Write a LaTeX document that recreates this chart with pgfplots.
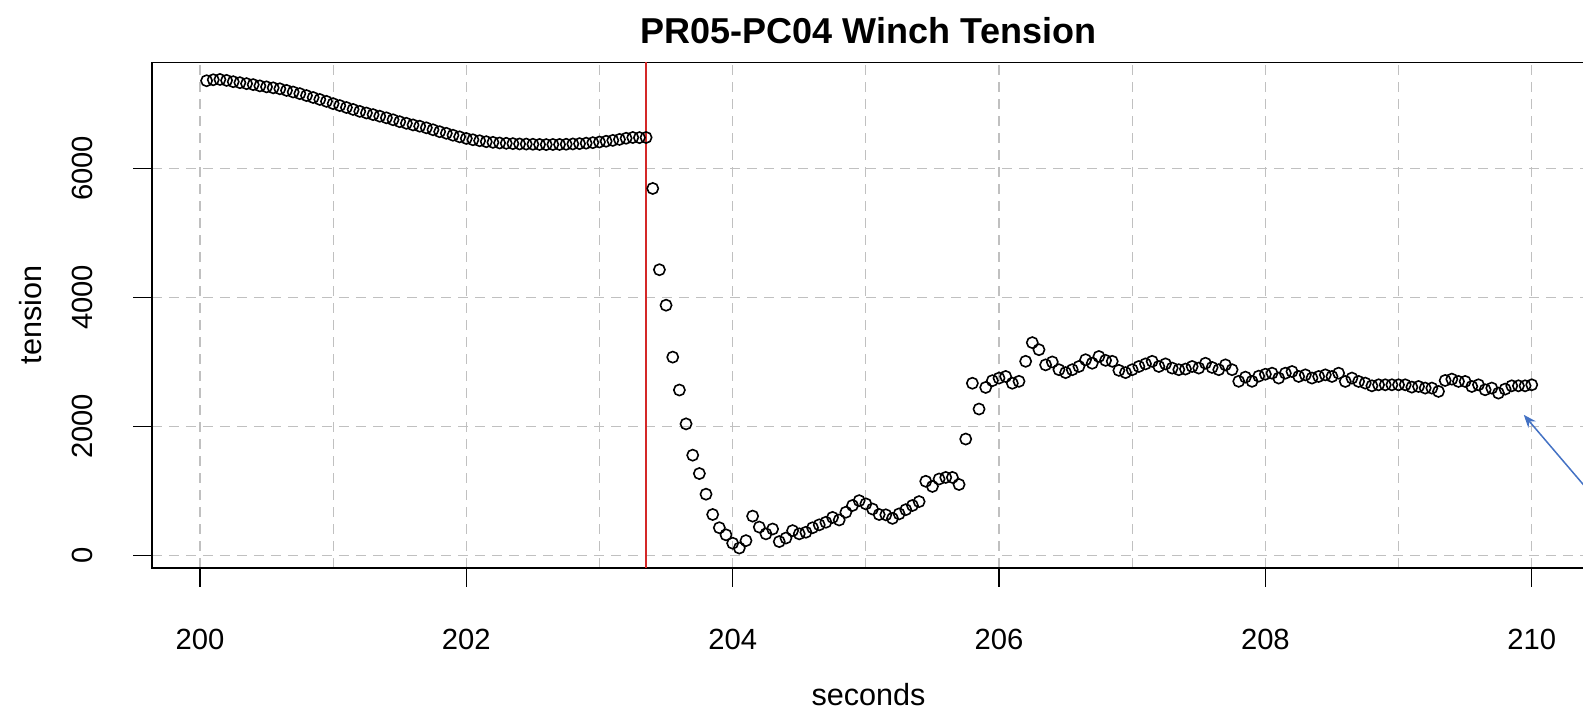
\documentclass[border=0pt]{standalone}
\usepackage{fontspec}
\setmainfont{Liberation Sans}
\usepackage{pgfplots}
\pgfplotsset{compat=1.18}
\usetikzlibrary{arrows.meta}
\definecolor{gridgray}{RGB}{192,192,192}
\definecolor{vred}{RGB}{212,40,40}
\definecolor{arrowblue}{RGB}{68,114,196}
\begin{document}
\begin{tikzpicture}
\begin{axis}[
  scale only axis,
  width=716.5bp, height=252.85bp,
  xmin=199.64, xmax=210.40,
  ymin=-194, ymax=7646,
  xtick={200,202,204,206,208,210},
  minor xtick={201,203,205,207,209},
  ytick={0,2000,4000,6000},
  grid=both,
  major grid style={gridgray, line width=0.6bp, dash pattern=on 5bp off 3.5bp},
  minor grid style={gridgray, line width=0.6bp, dash pattern=on 5bp off 3.5bp},
  minor tick length=0pt,
  major tick length=9.3bp,
  tick align=outside,
  xtick pos=left, ytick pos=left,
  major tick style={black, line width=0.65bp},
  axis line style={black, line width=0.65bp},
  /pgf/number format/assume math mode=true,
  /pgf/number format/1000 sep={},
  ticklabel style={font=\fontsize{14.6bp}{18bp}\selectfont},
  xticklabel style={anchor=center, yshift=-26.5bp},
  yticklabel style={xshift=-25.5bp, rotate=90, anchor=center},
  every axis title/.style={at={(axis description cs:0.5,1)}, anchor=center, yshift=16bp, font=\fontsize{18bp}{21bp}\selectfont\bfseries},
  every axis x label/.style={at={(axis description cs:0.5,0)}, anchor=center, yshift=-63.3bp, font=\fontsize{15.3bp}{18bp}\selectfont},
  every axis y label/.style={at={(axis description cs:0,0.5)}, xshift=-60.85bp, rotate=90, anchor=center, font=\fontsize{15.3bp}{18bp}\selectfont},
  title={PR05-PC04 Winch Tension},
  xlabel={seconds},
  ylabel={tension},
]
\addplot[only marks, mark=o, mark size=2.8bp, mark options={black, line width=0.8bp}] table {
t v
200.05 7360
200.10 7375
200.15 7380
200.20 7365
200.25 7345
200.30 7330
200.35 7315
200.40 7300
200.45 7280
200.50 7265
200.55 7250
200.60 7235
200.65 7210
200.70 7185
200.75 7160
200.80 7130
200.85 7100
200.90 7070
200.95 7040
201.00 7005
201.05 6975
201.10 6945
201.15 6915
201.20 6885
201.25 6860
201.30 6835
201.35 6810
201.40 6785
201.45 6755
201.50 6725
201.55 6700
201.60 6675
201.65 6655
201.70 6630
201.75 6600
201.80 6570
201.85 6545
201.90 6515
201.95 6490
202.00 6465
202.05 6445
202.10 6430
202.15 6415
202.20 6405
202.25 6395
202.30 6390
202.35 6385
202.40 6380
202.45 6378
202.50 6375
202.55 6372
202.60 6370
202.65 6372
202.70 6372
202.75 6375
202.80 6380
202.85 6385
202.90 6392
202.95 6400
203.00 6410
203.05 6422
203.10 6435
203.15 6450
203.20 6468
203.25 6480
203.30 6478
203.35 6480
203.40 5690
203.45 4430
203.50 3880
203.55 3075
203.60 2565
203.65 2040
203.70 1555
203.75 1270
203.80 950
203.85 635
203.90 430
203.95 320
204.00 190
204.05 115
204.10 230
204.15 610
204.20 440
204.25 335
204.30 410
204.35 215
204.40 270
204.45 385
204.50 335
204.55 360
204.60 430
204.65 475
204.70 515
204.75 590
204.80 550
204.85 670
204.90 775
204.95 850
205.00 800
205.05 720
205.10 635
205.15 630
205.20 575
205.25 645
205.30 710
205.35 775
205.40 835
205.45 1150
205.50 1070
205.55 1185
205.60 1210
205.65 1210
205.70 1100
205.75 1805
205.80 2670
205.85 2270
205.90 2605
205.95 2710
206.00 2750
206.05 2775
206.10 2670
206.15 2700
206.20 3010
206.25 3300
206.30 3190
206.35 2955
206.40 3000
206.45 2880
206.50 2835
206.55 2880
206.60 2930
206.65 3035
206.70 2980
206.75 3085
206.80 3025
206.85 3010
206.90 2870
206.95 2835
207.00 2880
207.05 2930
207.10 2970
207.15 3010
207.20 2930
207.25 2970
207.30 2905
207.35 2880
207.40 2890
207.45 2930
207.50 2905
207.55 2980
207.60 2915
207.65 2880
207.70 2955
207.75 2880
207.80 2700
207.85 2765
207.90 2700
207.95 2780
208.00 2810
208.05 2826
208.10 2750
208.15 2826
208.20 2852
208.25 2775
208.30 2800
208.35 2750
208.40 2775
208.45 2800
208.50 2775
208.55 2826
208.60 2698
208.65 2750
208.70 2698
208.75 2672
208.80 2630
208.85 2646
208.90 2646
208.95 2646
209.00 2646
209.05 2646
209.10 2610
209.15 2620
209.20 2595
209.25 2595
209.30 2543
209.35 2713
209.40 2734
209.45 2698
209.50 2698
209.55 2620
209.60 2646
209.65 2569
209.70 2595
209.75 2517
209.80 2579
209.85 2630
209.90 2630
209.95 2630
210.00 2646
};
\addplot[vred, line width=0.6bp] coordinates {(203.35,-194) (203.35,7646)};
\draw[arrowblue, line width=0.75bp, -{Stealth[length=6.5bp, width=5bp]}] (axis cs:210.51,802) -- (axis cs:209.94,2181);
\end{axis}
\pgfresetboundingbox
\path[use as bounding box] ([xshift=-76bp, yshift=-71.5bp]current axis.south west) rectangle ([xshift=-1bp, yshift=31.15bp]current axis.north east);
\end{tikzpicture}
\end{document}
